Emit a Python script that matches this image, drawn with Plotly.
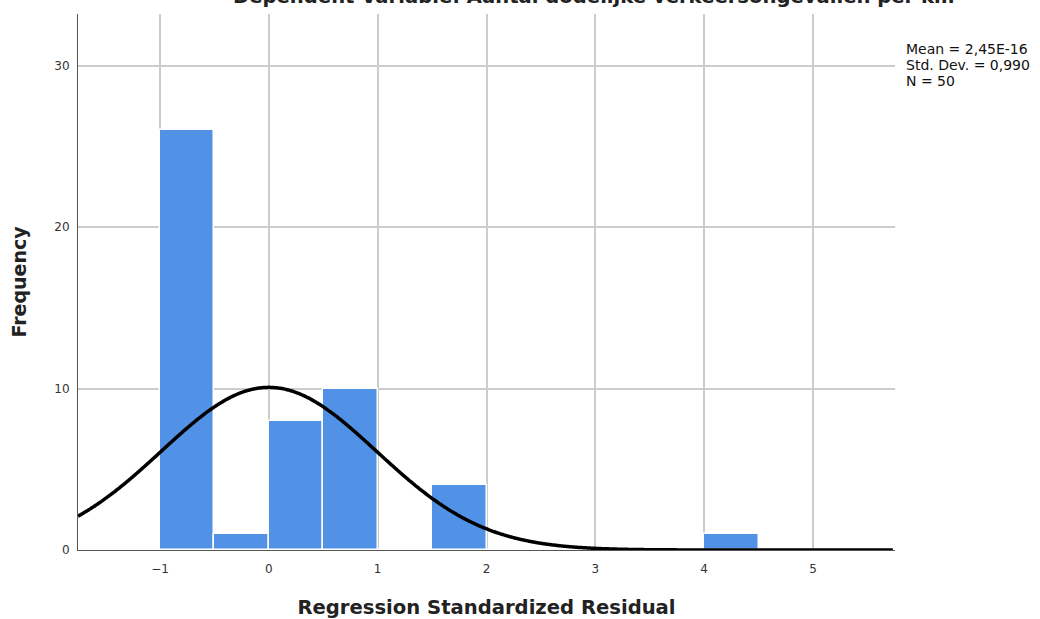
import numpy as np
import plotly.graph_objects as go

# Data
bin_starts = [-1.0, -0.5, 0.0, 0.5, 1.0, 1.5, 2.0, 2.5, 3.0, 3.5, 4.0]
frequencies = [26, 1, 8, 10, 0, 4, 0, 0, 0, 0, 1]
bin_width = 0.5
mean_val = 2.45e-16
std_dev = 0.990
n_obs = 50
x_tick_vals = [-1, 0, 1, 2, 3, 4, 5]
y_tick_vals = [0, 10, 20, 30]

title_text = "Dependent Variable: Aantal dodelijke verkeersongevallen per km"
stats_lines = ["Mean = 2,45E-16", "Std. Dev. = 0,990", "N = 50"]

x_range = [-1.754, 5.754]
y_range = [0, 33.2]

bar_centers = [s + bin_width / 2 for s in bin_starts]

xs = np.linspace(x_range[0], x_range[1] - 0.02, 600)
curve = n_obs * bin_width / (std_dev * np.sqrt(2 * np.pi)) * np.exp(-0.5 * ((xs - mean_val) / std_dev) ** 2)

fig = go.Figure()
fig.add_trace(go.Bar(
    x=bar_centers, y=frequencies, width=bin_width,
    marker=dict(color="rgb(81,146,230)", line=dict(color="white", width=1.5)),
    hoverinfo="skip",
))
fig.add_trace(go.Scatter(
    x=xs, y=curve, mode="lines",
    line=dict(color="black", width=3.5, shape="spline", simplify=False),
    hoverinfo="skip",
))

fig.update_layout(
    width=1040, height=619,
    margin=dict(l=78, r=145, t=14, b=69, autoexpand=False),
    paper_bgcolor="white", plot_bgcolor="white",
    showlegend=False,
    font=dict(family="DejaVu Sans", color="#333333"),
    bargap=0,
)
fig.update_xaxes(
    range=x_range, tickvals=x_tick_vals, ticks="", showgrid=True, automargin=False,
    gridcolor="#cccccc", gridwidth=1.5, zeroline=False,
    showline=True, linecolor="#555555", linewidth=1,
    tickfont=dict(size=12, color="#333333"), ticklabelstandoff=8,
    title=dict(text="<b>Regression Standardized Residual</b>", font=dict(size=19.6, color="#222222"), standoff=24),
)
fig.update_yaxes(
    range=y_range, tickvals=y_tick_vals, ticks="", showgrid=True, automargin=False,
    gridcolor="#cccccc", gridwidth=1.5, zeroline=False,
    showline=True, linecolor="#555555", linewidth=1,
    tickfont=dict(size=12, color="#333333"), ticklabelstandoff=5,
    title=dict(text="<b>Frequency</b>", font=dict(size=19, color="#222222"), standoff=22),
)

fig.add_annotation(
    text="<b>" + title_text + "</b>", xref="paper", yref="paper",
    x=(594 - 78) / (895 - 78), y=1.0, yshift=4, xanchor="center", yanchor="bottom",
    showarrow=False, font=dict(size=19.6, color="#222222"),
)
for i, line in enumerate(stats_lines):
    fig.add_annotation(
        text=line, xref="paper", yref="paper",
        x=1.0, xshift=10, y=1.0, yshift=-26 - 16 * i, xanchor="left", yanchor="top", align="left",
        showarrow=False, font=dict(size=14, color="#111111"), borderpad=0,
    )

fig.write_html("out.html")
